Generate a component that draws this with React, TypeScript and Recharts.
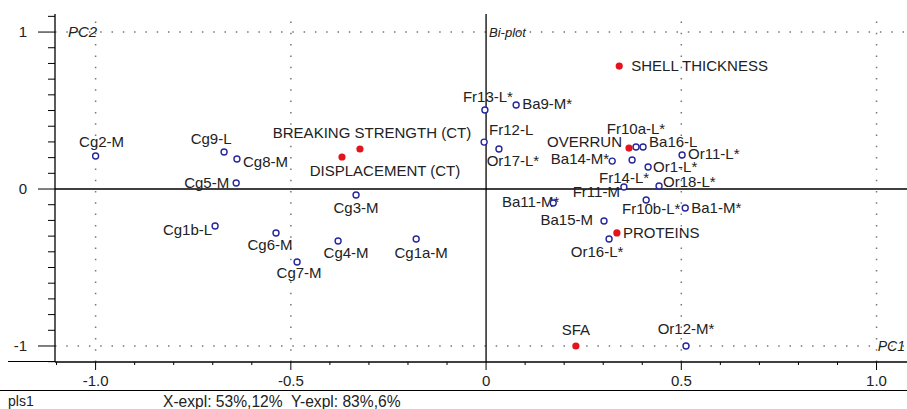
import { ScatterChart, Scatter, XAxis, YAxis, ReferenceLine } from 'recharts'

// PLS bi-plot: samples (blue rings) and variables (red dots)
const sampleNames = [
  'Cg2-M', 'Cg9-L', 'Cg8-M', 'Cg5-M', 'Cg1b-L', 'Cg6-M', 'Cg7-M', 'Cg4-M', 'Cg3-M', 'Cg1a-M',
  'Fr13-L*', 'Ba9-M*', 'Fr12-L', 'Or17-L*', 'Fr10a-L*', 'Ba16-L', 'Ba14-M*', 'Fr14-L*', 'Or11-L*',
  'Or1-L*', 'Or18-L*', 'Fr11-M', 'Fr10b-L*', 'Ba1-M*', 'Ba11-M*', 'Ba15-M', 'Or16-L*', 'Or12-M*',
]
const samplePC1 = [
  -1.0, -0.671, -0.638, -0.64, -0.694, -0.538, -0.484, -0.379, -0.333, -0.179,
  -0.003, 0.077, -0.005, 0.033, 0.384, 0.402, 0.323, 0.374, 0.502,
  0.415, 0.443, 0.353, 0.41, 0.51, 0.172, 0.302, 0.315, 0.512,
]
const samplePC2 = [
  0.21, 0.236, 0.191, 0.038, -0.236, -0.28, -0.465, -0.331, -0.038, -0.318,
  0.503, 0.535, 0.299, 0.255, 0.268, 0.268, 0.178, 0.185, 0.217,
  0.14, 0.019, 0.013, -0.07, -0.121, -0.089, -0.204, -0.318, -1.0,
]

const variableNames = ['SHELL THICKNESS', 'BREAKING STRENGTH (CT)', 'DISPLACEMENT (CT)', 'OVERRUN', 'PROTEINS', 'SFA']
const variablePC1 = [0.341, -0.323, -0.369, 0.366, 0.335, 0.23]
const variablePC2 = [0.783, 0.255, 0.204, 0.261, -0.28, -1.0]

const xTicks = [-1.1, -1.0, -0.9, -0.8, -0.7, -0.6, -0.5, -0.4, -0.3, -0.2, -0.1, 0, 0.1, 0.2, 0.3, 0.4, 0.5, 0.6, 0.7, 0.8, 0.9, 1.0]
const xMajor = [-1.0, -0.5, 0, 0.5, 1.0]
const xMajorLabels = ['-1.0', '-0.5', '0', '0.5', '1.0']
const yTicks = [-1.1, -1.0, -0.9, -0.8, -0.7, -0.6, -0.5, -0.4, -0.3, -0.2, -0.1, 0, 0.1, 0.2, 0.3, 0.4, 0.5, 0.6, 0.7, 0.8, 0.9, 1.0, 1.1]
const yMajor = [-1, 0, 1]
const yMajorLabels = ['-1', '0', '1']

// label placement relative to its point: [dx, dy(center), anchor]
type Anchor = 'start' | 'middle' | 'end'
const labelPos: Record<string, [number, number, Anchor]> = {
  'Cg2-M': [6, -14, 'middle'],
  'Cg9-L': [-13, -13, 'middle'],
  'Cg8-M': [6, 3, 'start'],
  'Cg5-M': [-7, 0, 'end'],
  'Cg1b-L': [-3, 4, 'end'],
  'Cg6-M': [-6, 12, 'middle'],
  'Cg7-M': [2, 11, 'middle'],
  'Cg4-M': [8, 12, 'middle'],
  'Cg3-M': [0, 13, 'middle'],
  'Cg1a-M': [5, 14, 'middle'],
  'Fr13-L*': [3, -13, 'middle'],
  'Ba9-M*': [6, -1, 'start'],
  'Fr12-L': [5, -12, 'start'],
  'Or17-L*': [14, 12, 'middle'],
  'Fr10a-L*': [0, -18, 'middle'],
  'Ba16-L': [6, -5, 'start'],
  'Ba14-M*': [-3, -2, 'end'],
  'Fr14-L*': [17, 18, 'end'],
  'Or11-L*': [6, -1, 'start'],
  'Or1-L*': [5, 0, 'start'],
  'Or18-L*': [4, -4, 'start'],
  'Fr11-M': [-4, 5, 'end'],
  'Fr10b-L*': [5, 9, 'middle'],
  'Ba1-M*': [6, 0, 'start'],
  'Ba11-M*': [6, -1, 'end'],
  'Ba15-M': [-11, -1, 'end'],
  'Or16-L*': [-12, 13, 'middle'],
  'Or12-M*': [0, -17, 'middle'],
  'SHELL THICKNESS': [12, 0, 'start'],
  'BREAKING STRENGTH (CT)': [12, -16, 'middle'],
  'DISPLACEMENT (CT)': [43, 14, 'middle'],
  OVERRUN: [-7, -6, 'end'],
  PROTEINS: [6, 0, 'start'],
  SFA: [0, -16, 'middle'],
}

const samples = sampleNames.map((name, i) => ({ name, x: samplePC1[i], y: samplePC2[i] }))
const variables = variableNames.map((name, i) => ({ name, x: variablePC1[i], y: variablePC2[i] }))

const FONT = '"Liberation Sans", Arial, sans-serif'
const TEXT = '#222'
const BLUE = '#26269c'
const RED = '#e3141c'
const DOT = '#777'

function PointLabel({ cx, cy, name }: { cx: number; cy: number; name: string }) {
  const [dx, dy, anchor] = labelPos[name] ?? [0, -14, 'middle']
  return (
    <text x={cx + dx} y={cy + dy + 5} textAnchor={anchor} fontSize={15} fontFamily={FONT} fill={TEXT}>
      {name}
    </text>
  )
}

const SampleShape = (props: any) => (
  <g>
    <PointLabel cx={props.cx} cy={props.cy} name={props.payload.name} />
    <circle cx={props.cx} cy={props.cy} r={3} fill="#fff" stroke={BLUE} strokeWidth={1.4} />
  </g>
)

const VariableShape = (props: any) => (
  <g>
    <PointLabel cx={props.cx} cy={props.cy} name={props.payload.name} />
    <circle cx={props.cx} cy={props.cy} r={3.6} fill={RED} />
  </g>
)

const XTick = (props: any) => {
  const { x, y, payload } = props
  const k = xMajor.findIndex((v) => Math.abs(v - payload.value) < 1e-6)
  return (
    <g>
      <line x1={x} y1={y} x2={x} y2={y + (k >= 0 ? 8 : 3)} stroke="#000" />
      {k >= 0 && (
        <text x={x} y={y + 24} textAnchor="middle" fontSize={15} fontFamily={FONT} fill={TEXT}>
          {xMajorLabels[k]}
        </text>
      )}
    </g>
  )
}

const YTick = (props: any) => {
  const { x, y, payload } = props
  const k = yMajor.findIndex((v) => Math.abs(v - payload.value) < 1e-6)
  return (
    <g>
      <line x1={x - (k >= 0 ? 17 : 7)} y1={y} x2={x} y2={y} stroke="#000" />
      {k >= 0 && (
        <text x={x - 28} y={y + 5} textAnchor="end" fontSize={15} fontFamily={FONT} fill={TEXT}>
          {yMajorLabels[k]}
        </text>
      )}
    </g>
  )
}

const italic = { fontFamily: FONT, fontStyle: 'italic' as const, fill: TEXT }

export default function App() {
  return (
    <div style={{ position: 'relative', width: 907, height: 409, background: '#fff' }}>
      <style>{`body{margin:0}`}</style>
      <ScatterChart width={907} height={409} margin={{ top: 14, right: 0, bottom: 0, left: 0 }}>
        <XAxis
          dataKey="x"
          type="number"
          domain={[-1.104, 1.078]}
          allowDataOverflow
          ticks={xTicks}
          interval={0}
          height={47}
          tickSize={0}
          tickMargin={0}
          tick={<XTick />}
          axisLine={{ stroke: '#000', strokeWidth: 1.3 }}
        />
        <YAxis
          dataKey="y"
          type="number"
          domain={[-1.102, 1.115]}
          allowDataOverflow
          ticks={yTicks}
          interval={0}
          width={55}
          tickSize={0}
          tickMargin={0}
          tick={<YTick />}
          axisLine={{ stroke: '#000', strokeWidth: 1.3 }}
        />
        {[-1, -0.5, 0.5, 1].map((v) => (
          <ReferenceLine key={'x' + v} x={v} stroke={DOT} strokeWidth={1.5} strokeDasharray="1.5 9.8" />
        ))}
        <ReferenceLine
          y={1}
          stroke={DOT}
          strokeWidth={1.5}
          strokeDasharray="1.5 9.8"
          label={(p: any) => (
            <text x={p.viewBox.x + 13} y={p.viewBox.y + 5} fontSize={15} {...italic}>PC2</text>
          )}
        />
        <ReferenceLine
          y={-1}
          stroke={DOT}
          strokeWidth={1.5}
          strokeDasharray="1.5 9.8"
          label={(p: any) => (
            <text x={p.viewBox.x + p.viewBox.width - 2} y={p.viewBox.y + 5} textAnchor="end" fontSize={14} {...italic}>PC1</text>
          )}
        />
        <ReferenceLine
          x={0}
          stroke="#000"
          strokeWidth={1.3}
          label={(p: any) => (
            <text x={p.viewBox.x + 3} y={p.viewBox.y + 23} fontSize={13} {...italic}>Bi-plot</text>
          )}
        />
        <ReferenceLine y={0} stroke="#000" strokeWidth={1.3} />
        <Scatter data={samples} isAnimationActive={false} shape={SampleShape} />
        <Scatter data={variables} isAnimationActive={false} shape={VariableShape} />
      </ScatterChart>
      <div style={{ position: 'absolute', left: 8, top: 361, width: 47, height: 1.3, background: '#000' }} />
      <div style={{ position: 'absolute', left: 0, top: 390, width: 907, height: 1.3, background: '#000' }} />
      <div style={{ position: 'absolute', left: 8, top: 393, fontSize: 14, fontFamily: FONT, color: TEXT }}>pls1</div>
      <div style={{ position: 'absolute', left: 163, top: 393, fontSize: 15.6, fontFamily: FONT, color: TEXT, whiteSpace: 'pre' }}>
        {'X-expl: 53%,12%  Y-expl: 83%,6%'}
      </div>
    </div>
  )
}
